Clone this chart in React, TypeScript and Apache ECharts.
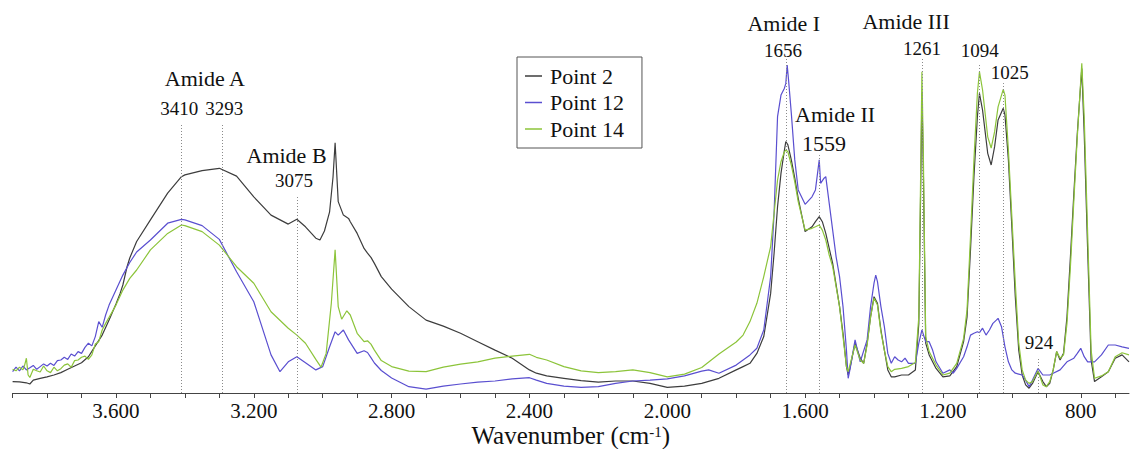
import React, { useEffect, useRef } from "react";
import * as echarts from "echarts";

// Wavenumber (cm-1), absorbance (a.u.)
const point2: [number, number][] = [
  [3900, 0.038], [3880, 0.037], [3860, 0.034], [3850, 0.03], [3840, 0.043], [3820, 0.049], [3800, 0.054],
  [3780, 0.06], [3760, 0.068], [3740, 0.079], [3720, 0.09], [3700, 0.101], [3680, 0.121], [3660, 0.157],
  [3640, 0.193], [3620, 0.243], [3600, 0.297], [3588, 0.332], [3580, 0.36], [3568, 0.42], [3560, 0.45],
  [3540, 0.505], [3500, 0.577],
  [3450, 0.666], [3410, 0.721], [3400, 0.727], [3350, 0.741], [3300, 0.749], [3250, 0.723], [3200, 0.654],
  [3150, 0.593], [3100, 0.563], [3075, 0.579], [3050, 0.554], [3020, 0.516], [3008, 0.51], [2995, 0.54],
  [2980, 0.604], [2970, 0.721], [2964, 0.834], [2955, 0.638], [2940, 0.593], [2925, 0.582], [2920, 0.571],
  [2900, 0.532], [2880, 0.482], [2870, 0.466], [2860, 0.452], [2850, 0.432], [2830, 0.388], [2800, 0.346],
  [2750, 0.288], [2700, 0.243], [2650, 0.223], [2600, 0.199], [2550, 0.171], [2500, 0.143], [2450, 0.116],
  [2400, 0.077], [2380, 0.066], [2350, 0.057], [2300, 0.049], [2250, 0.041], [2200, 0.036], [2150, 0.04],
  [2100, 0.04], [2050, 0.032], [2000, 0.019], [1950, 0.023], [1900, 0.032], [1850, 0.049], [1800, 0.077],
  [1780, 0.088], [1760, 0.099], [1740, 0.132], [1720, 0.188], [1700, 0.332], [1690, 0.466], [1680, 0.621],
  [1670, 0.732], [1660, 0.81], [1656, 0.838], [1650, 0.827], [1640, 0.777], [1630, 0.716], [1620, 0.649],
  [1600, 0.538], [1580, 0.554], [1570, 0.571], [1559, 0.588], [1550, 0.571], [1540, 0.532], [1530, 0.482],
  [1520, 0.432], [1500, 0.288], [1490, 0.199], [1480, 0.088], [1475, 0.06], [1470, 0.082], [1455, 0.166],
  [1440, 0.116], [1430, 0.099], [1420, 0.166], [1410, 0.254], [1400, 0.321], [1390, 0.299], [1380, 0.21],
  [1370, 0.143], [1360, 0.077], [1350, 0.054], [1340, 0.054], [1320, 0.06], [1300, 0.06], [1280, 0.077],
  [1270, 0.232], [1265, 0.643], [1261, 1.0], [1257, 0.754], [1250, 0.166], [1240, 0.127], [1220, 0.082],
  [1200, 0.054], [1180, 0.057], [1160, 0.088], [1140, 0.171], [1130, 0.254], [1120, 0.477], [1110, 0.721],
  [1100, 0.921], [1094, 0.999], [1085, 0.943], [1070, 0.799], [1060, 0.76], [1050, 0.821], [1040, 0.91],
  [1025, 0.949], [1020, 0.927], [1010, 0.777], [1000, 0.554], [990, 0.321], [980, 0.143], [970, 0.06],
  [960, 0.027], [950, 0.016], [940, 0.032], [924, 0.071], [910, 0.038], [900, 0.021], [890, 0.032],
  [880, 0.077], [870, 0.138], [860, 0.11], [850, 0.132], [840, 0.254], [830, 0.454], [820, 0.666],
  [810, 0.866], [797, 1.082], [790, 0.866], [780, 0.477], [770, 0.11], [760, 0.038], [740, 0.054],
  [720, 0.071], [700, 0.116], [680, 0.127], [660, 0.104],
];

const point12: [number, number][] = [
  [3900, 0.071], [3890, 0.086], [3880, 0.074], [3870, 0.09], [3860, 0.077], [3850, 0.084], [3840, 0.092],
  [3830, 0.079], [3820, 0.088], [3810, 0.097], [3800, 0.09], [3790, 0.099], [3780, 0.092], [3770, 0.108],
  [3760, 0.11], [3750, 0.119], [3740, 0.112], [3730, 0.13], [3720, 0.123], [3710, 0.138], [3700, 0.132],
  [3690, 0.152], [3680, 0.166], [3670, 0.157], [3660, 0.188], [3650, 0.238], [3640, 0.219], [3630, 0.26],
  [3620, 0.293], [3600, 0.343], [3580, 0.393], [3560, 0.435], [3540, 0.47], [3500, 0.51], [3450, 0.566],
  [3410, 0.579], [3400, 0.577], [3350, 0.558], [3300, 0.512], [3250, 0.404], [3200, 0.304], [3150, 0.127],
  [3124, 0.071], [3100, 0.104], [3075, 0.121], [3050, 0.101], [3020, 0.077], [3000, 0.088], [2980, 0.154],
  [2964, 0.204], [2955, 0.193], [2940, 0.21], [2925, 0.177], [2900, 0.132], [2880, 0.141], [2870, 0.135],
  [2860, 0.118], [2850, 0.1], [2830, 0.075], [2800, 0.05], [2750, 0.021], [2700, 0.013], [2650, 0.023],
  [2600, 0.03], [2550, 0.036], [2500, 0.04], [2450, 0.047], [2400, 0.051], [2380, 0.043], [2350, 0.032],
  [2300, 0.023], [2250, 0.019], [2200, 0.021], [2150, 0.032], [2100, 0.04], [2050, 0.043], [2000, 0.047],
  [1950, 0.057], [1900, 0.073], [1880, 0.077], [1850, 0.066], [1800, 0.093], [1780, 0.11], [1760, 0.127],
  [1740, 0.149], [1720, 0.21], [1700, 0.388], [1690, 0.6], [1680, 0.921], [1670, 0.993], [1660, 1.016],
  [1656, 1.032], [1652, 1.093], [1648, 1.043], [1640, 0.932], [1630, 0.777], [1620, 0.677], [1600, 0.629],
  [1580, 0.654], [1570, 0.677], [1559, 0.777], [1555, 0.699], [1545, 0.716], [1540, 0.721], [1530, 0.632],
  [1520, 0.543], [1510, 0.454], [1500, 0.388], [1490, 0.288], [1480, 0.143], [1475, 0.049], [1470, 0.077],
  [1455, 0.177], [1440, 0.104], [1420, 0.177], [1410, 0.288], [1400, 0.366], [1395, 0.393], [1390, 0.371],
  [1380, 0.288], [1370, 0.221], [1360, 0.132], [1350, 0.099], [1340, 0.121], [1330, 0.11], [1320, 0.104],
  [1310, 0.116], [1300, 0.099], [1280, 0.099], [1270, 0.166], [1261, 0.21], [1250, 0.171], [1240, 0.171],
  [1230, 0.143], [1220, 0.104], [1200, 0.066], [1180, 0.077], [1170, 0.066], [1160, 0.082], [1140, 0.121],
  [1130, 0.154], [1120, 0.193], [1110, 0.199], [1100, 0.204], [1094, 0.201], [1085, 0.216], [1075, 0.193],
  [1065, 0.21], [1055, 0.232], [1045, 0.243], [1040, 0.249], [1030, 0.221], [1020, 0.154], [1010, 0.104],
  [1000, 0.077], [990, 0.066], [980, 0.063], [970, 0.06], [960, 0.043], [950, 0.021], [940, 0.043],
  [924, 0.082], [910, 0.06], [900, 0.06], [890, 0.06], [880, 0.066], [860, 0.077], [840, 0.104],
  [820, 0.116], [810, 0.132], [800, 0.149], [790, 0.121], [780, 0.104], [760, 0.104], [740, 0.127],
  [720, 0.16], [700, 0.16], [680, 0.154], [660, 0.149],
];

const point14: [number, number][] = [
  [3900, 0.079], [3890, 0.074], [3880, 0.086], [3870, 0.077], [3865, 0.093], [3860, 0.116], [3855, 0.06],
  [3850, 0.052], [3840, 0.079], [3830, 0.074], [3820, 0.07], [3810, 0.09], [3800, 0.074], [3790, 0.068],
  [3780, 0.086], [3770, 0.074], [3760, 0.081], [3750, 0.093], [3740, 0.097], [3730, 0.086], [3720, 0.108],
  [3710, 0.11], [3700, 0.119], [3690, 0.123], [3680, 0.112], [3670, 0.127], [3660, 0.163], [3650, 0.171],
  [3640, 0.21], [3630, 0.232], [3620, 0.252], [3600, 0.293], [3580, 0.343], [3560, 0.382], [3540, 0.41],
  [3500, 0.477], [3450, 0.532], [3410, 0.56], [3400, 0.558], [3350, 0.538], [3300, 0.493], [3250, 0.421],
  [3200, 0.366], [3150, 0.271], [3100, 0.216], [3075, 0.193], [3050, 0.166], [3020, 0.112], [3005, 0.086],
  [2990, 0.132], [2975, 0.299], [2964, 0.477], [2955, 0.288], [2945, 0.246], [2930, 0.274], [2920, 0.26],
  [2900, 0.199], [2880, 0.171], [2870, 0.174], [2860, 0.163], [2850, 0.143], [2830, 0.108], [2800, 0.088],
  [2750, 0.073], [2700, 0.071], [2650, 0.086], [2600, 0.096], [2550, 0.104], [2500, 0.116], [2450, 0.123],
  [2400, 0.129], [2380, 0.119], [2350, 0.11], [2300, 0.088], [2250, 0.074], [2200, 0.068], [2150, 0.071],
  [2100, 0.077], [2050, 0.068], [2000, 0.054], [1950, 0.063], [1900, 0.085], [1850, 0.13], [1800, 0.17],
  [1780, 0.193], [1760, 0.238], [1740, 0.299], [1720, 0.388], [1700, 0.488], [1690, 0.599], [1680, 0.71],
  [1670, 0.771], [1660, 0.804], [1656, 0.81], [1650, 0.804], [1640, 0.76], [1630, 0.704], [1620, 0.638],
  [1600, 0.543], [1580, 0.549], [1570, 0.554], [1559, 0.56], [1550, 0.543], [1540, 0.51], [1530, 0.46],
  [1520, 0.421], [1500, 0.288], [1490, 0.188], [1480, 0.088], [1475, 0.071], [1470, 0.093], [1455, 0.16],
  [1440, 0.11], [1430, 0.099], [1420, 0.16], [1410, 0.254], [1400, 0.316], [1390, 0.293], [1380, 0.204],
  [1370, 0.143], [1360, 0.088], [1350, 0.071], [1340, 0.079], [1320, 0.082], [1300, 0.088], [1280, 0.102],
  [1270, 0.254], [1265, 0.699], [1261, 1.071], [1257, 0.81], [1250, 0.188], [1240, 0.138], [1220, 0.093],
  [1200, 0.06], [1180, 0.066], [1160, 0.099], [1140, 0.182], [1130, 0.277], [1120, 0.521], [1110, 0.777],
  [1100, 0.999], [1094, 1.071], [1085, 1.01], [1070, 0.854], [1060, 0.816], [1050, 0.871], [1040, 0.954],
  [1025, 1.012], [1020, 0.993], [1010, 0.81], [1000, 0.588], [990, 0.366], [980, 0.166], [970, 0.077],
  [960, 0.043], [950, 0.032], [940, 0.038], [924, 0.074], [910, 0.027], [900, 0.021], [890, 0.038],
  [880, 0.077], [870, 0.138], [860, 0.116], [850, 0.127], [840, 0.232], [830, 0.421], [820, 0.643],
  [810, 0.854], [797, 1.099], [790, 0.921], [780, 0.532], [770, 0.143], [760, 0.049], [740, 0.057],
  [720, 0.071], [700, 0.121], [680, 0.134], [660, 0.127],
];

const labelTicks = [3600, 3200, 2800, 2400, 2000, 1600, 1200, 800];
const minorTicks = [
  3900, 3800, 3700, 3600, 3500, 3400, 3300, 3200, 3100, 3000, 2900, 2800, 2700, 2600, 2500, 2400, 2300,
  2200, 2100, 2000, 1900, 1800, 1700, 1600, 1500, 1400, 1300, 1200, 1100, 1000, 900, 800, 700,
];

// Dotted guide lines: wavenumber, top absorbance
const peakLines = [
  { w: 3410, top: 0.9 }, { w: 3293, top: 0.9 }, { w: 3075, top: 0.66 }, { w: 1656, top: 1.127 },
  { w: 1559, top: 0.793 }, { w: 1261, top: 1.12 }, { w: 1094, top: 1.1 }, { w: 1025, top: 1.033 },
  { w: 924, top: 0.117 },
];

// Annotation texts placed in data coordinates (centre of text)
const peakLabels = [
  { text: "Amide A", w: 3342, v: 1.05, size: 22 },
  { text: "3410", w: 3416, v: 0.95, size: 19 },
  { text: "3293", w: 3286, v: 0.95, size: 19 },
  { text: "Amide B", w: 3105, v: 0.793, size: 22 },
  { text: "3075", w: 3083, v: 0.71, size: 19 },
  { text: "Amide I", w: 1662, v: 1.233, size: 22 },
  { text: "1656", w: 1664, v: 1.143, size: 19 },
  { text: "Amide II", w: 1513, v: 0.927, size: 22 },
  { text: "1559", w: 1545, v: 0.833, size: 22 },
  { text: "Amide III", w: 1307, v: 1.237, size: 22 },
  { text: "1261", w: 1261, v: 1.147, size: 19 },
  { text: "1094", w: 1093, v: 1.143, size: 19 },
  { text: "1025", w: 1006, v: 1.07, size: 19 },
  { text: "924", w: 921, v: 0.167, size: 19 },
];

const FONT = "Liberation Serif";

function fmtTick(v: number): string {
  if (v >= 1000) {
    return Math.floor(v / 1000) + "." + String(v % 1000).padStart(3, "0");
  }
  return String(v);
}

export default function App() {
  const ref = useRef<HTMLDivElement>(null);

  useEffect(() => {
    if (!ref.current) return;
    const chart = echarts.init(ref.current, null, { renderer: "svg" });

    const mk = (name: string, data: [number, number][], color: string, extra: any = {}) => ({
      name,
      type: "line",
      data,
      symbol: "none",
      showSymbol: false,
      smooth: false,
      lineStyle: { color, width: 1.2 },
      itemStyle: { color },
      emphasis: { disabled: true },
      ...extra,
    });

    chart.setOption({
      animation: false,
      backgroundColor: "#ffffff",
      textStyle: { fontFamily: FONT },
      grid: { left: 12.6, right: 2, top: 33, bottom: 56, containLabel: false, outerBoundsMode: "none" },
      xAxis: {
        type: "value",
        inverse: true,
        min: 660,
        max: 3900,
        axisLine: { show: true, onZero: false, lineStyle: { color: "#444", width: 1 } },
        axisTick: { show: true, inside: false, length: 5, customValues: minorTicks, lineStyle: { color: "#444" } },
        axisLabel: {
          customValues: labelTicks,
          formatter: (v: number) => fmtTick(v),
          fontFamily: FONT,
          fontSize: 21,
          lineHeight: 21,
          color: "#111",
          margin: 7,
        },
        splitLine: { show: false },
        name: "{a|Wavenumber (cm}{s|-1}{a|)}",
        nameLocation: "middle",
        nameGap: 31,
        nameMoveOverlap: false,
        nameTextStyle: {
          fontFamily: FONT,
          rich: {
            a: { fontFamily: FONT, fontSize: 25, color: "#111", lineHeight: 23 },
            s: { fontFamily: FONT, fontSize: 15, color: "#111", verticalAlign: "top", lineHeight: 15 },
          },
        },
      },
      yAxis: { type: "value", min: 0, max: 1.2, show: false, splitLine: { show: false } },
      legend: {
        data: ["Point 2", "Point 12", "Point 14"],
        orient: "vertical",
        left: 517,
        top: 57,
        icon: "rect",
        itemWidth: 17,
        itemHeight: 1.5,
        itemGap: 4.5,
        itemStyle: { borderWidth: 0 },
        padding: [8, 18, 8, 8],
        borderColor: "#555",
        borderWidth: 1,
        selectedMode: false,
        textStyle: { fontFamily: FONT, fontSize: 22, color: "#111", lineHeight: 22, padding: [0, 0, 0, 3] },
      },
      series: [
        mk("Point 2", point2, "#3d3d3d", { z: 2 }),
        mk("Point 12", point12, "#5a4fd0", { z: 3 }),
        mk("Point 14", point14, "#8cc43a", {
          z: 4,
          markLine: {
            silent: true,
            symbol: ["none", "none"],
            label: { show: false },
            lineStyle: { type: [1, 2], color: "#8a8a8a", width: 1 },
            emphasis: { disabled: true },
            data: peakLines.map((p) => [{ coord: [p.w, 0] }, { coord: [p.w, p.top] }]),
          },
        }),
      ],
    });

    const graphics = peakLabels.map((l) => {
      const pt = chart.convertToPixel({ gridIndex: 0 }, [l.w, l.v]) as number[];
      return {
        type: "text",
        x: pt[0],
        y: pt[1],
        silent: true,
        style: {
          text: l.text,
          fontFamily: FONT,
          fontSize: l.size,
          fill: "#111",
          align: "center",
          verticalAlign: "middle",
          textAlign: "center",
          textVerticalAlign: "middle",
        },
      };
    });
    chart.setOption({ graphic: graphics });

    return () => chart.dispose();
  }, []);

  return (
    <div
      ref={ref}
      style={{
        position: "fixed",
        left: 0,
        top: 0,
        width: 1131,
        height: 449,
        background: "#fff",
        fontFamily: "Liberation Serif",
      }}
    />
  );
}
